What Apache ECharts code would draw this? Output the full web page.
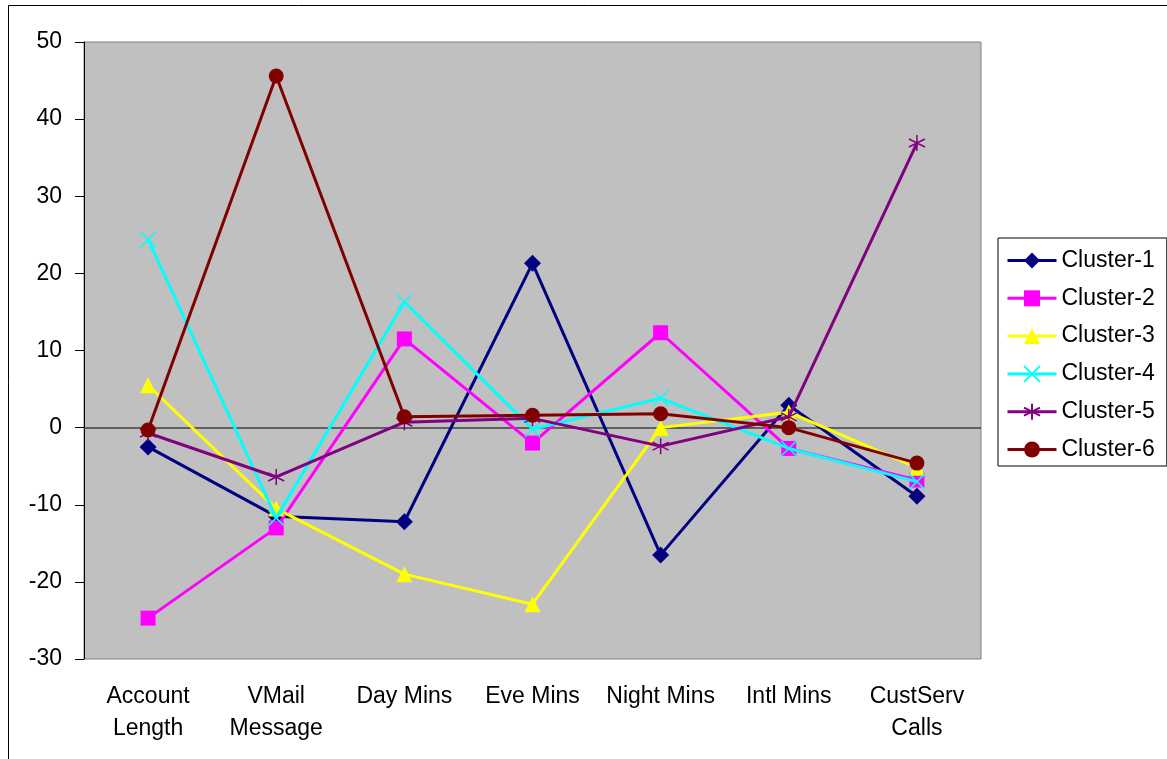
<!DOCTYPE html>
<html>
<head>
<meta charset="utf-8">
<script src="https://cdn.jsdelivr.net/npm/echarts@6/dist/echarts.min.js"></script>
<style>
html,body{margin:0;padding:0;background:#fff;}
#chart{width:1167px;height:759px;}
</style>
</head>
<body>
<div id="chart"></div>
<script>
const categories = ['Account\nLength', 'VMail\nMessage', 'Day Mins', 'Eve Mins', 'Night Mins', 'Intl Mins', 'CustServ\nCalls'];
const yTicks = { min: -30, max: 50, interval: 10 };
const cluster1 = [-2.5, -11.5, -12.2, 21.3, -16.5, 2.9, -8.9];
const cluster2 = [-24.7, -13.0, 11.5, -2.0, 12.3, -2.7, -6.8];
const cluster3 = [5.5, -10.5, -19.0, -22.9, 0.0, 2.0, -5.2];
const cluster4 = [24.4, -11.7, 16.3, -0.2, 3.8, -2.7, -7.0];
const cluster5 = [-0.7, -6.4, 0.7, 1.2, -2.4, 1.4, 36.9];
const cluster6 = [-0.3, 45.6, 1.4, 1.6, 1.8, 0.0, -4.6];
const seriesNames = ['Cluster-1', 'Cluster-2', 'Cluster-3', 'Cluster-4', 'Cluster-5', 'Cluster-6'];
const seriesData = [cluster1, cluster2, cluster3, cluster4, cluster5, cluster6];
const colors = ['#000080', '#FF00FF', '#FFFF00', '#00FFFF', '#800080', '#800000'];
const symbols = [
  'diamond',
  'rect',
  'triangle',
  'path://M0,0L10,10M10,0L0,10',
  'path://M5,0L5,10M0.7,2.5L9.3,7.5M0.7,7.5L9.3,2.5',
  'circle'
];
const symbolSizes = [17, 15, 16, 15, 16, 15];
const FONT = '"Liberation Sans", Arial, sans-serif';

const chart = echarts.init(document.getElementById('chart'), null, { renderer: 'canvas' });

const series = seriesNames.map((name, i) => {
  const isStroke = i === 3 || i === 4;
  const s = {
    name: name,
    type: 'line',
    data: seriesData[i],
    symbol: symbols[i],
    symbolSize: symbolSizes[i],
    showAllSymbol: true,
    animation: false,
    lineStyle: { color: colors[i], width: 3 },
    itemStyle: isStroke
      ? { color: 'rgba(0,0,0,0)', borderColor: colors[i], borderWidth: 1.5, opacity: 1 }
      : { color: colors[i], borderWidth: 0 },
    emphasis: { disabled: true },
    z: 3 + i
  };
  if (i === 0) {
    s.markLine = {
      silent: true,
      symbol: 'none',
      label: { show: false },
      lineStyle: { color: '#404040', width: 1.5, type: 'solid' },
      data: [{ yAxis: 0 }],
      z: 2
    };
  }
  return s;
});

chart.setOption({
  animation: false,
  backgroundColor: '#ffffff',
  textStyle: { fontFamily: FONT },
  graphic: [{
    type: 'rect',
    shape: { x: 8.5, y: 5.5, width: 1170, height: 800 },
    style: { fill: 'none', stroke: '#000', lineWidth: 1 },
    silent: true,
    z: -1
  }],
  grid: {
    left: 84, top: 42, right: 186, bottom: 100,
    show: true,
    backgroundColor: '#C0C0C0',
    borderColor: '#808080',
    borderWidth: 1
  },
  legend: {
    orient: 'vertical',
    left: 998,
    top: 238,
    padding: [11, 12, 5, 8],
    itemWidth: 49,
    itemHeight: 20,
    itemGap: 14.8,
    lineStyle: { width: 3 },
    borderColor: '#000',
    borderWidth: 1,
    backgroundColor: '#fff',
    textStyle: { fontSize: 23, color: '#000', fontFamily: FONT },
    data: seriesNames.map((n) => ({ name: n }))
  },
  xAxis: {
    type: 'category',
    data: categories,
    boundaryGap: true,
    axisLine: { show: false, onZero: false },
    axisTick: { show: false },
    axisLabel: {
      color: '#000',
      fontSize: 23,
      fontFamily: FONT,
      margin: 22,
      lineHeight: 32,
      interval: 0
    },
    splitLine: { show: false }
  },
  yAxis: {
    type: 'value',
    min: yTicks.min,
    max: yTicks.max,
    interval: yTicks.interval,
    axisLine: { show: true, lineStyle: { color: '#000', width: 1 } },
    axisTick: { show: true, inside: false, length: 9, lineStyle: { color: '#000' } },
    axisLabel: { color: '#000', fontSize: 23, fontFamily: FONT, margin: 22 },
    splitLine: { show: false }
  },
  series: series
});
</script>
</body>
</html>
